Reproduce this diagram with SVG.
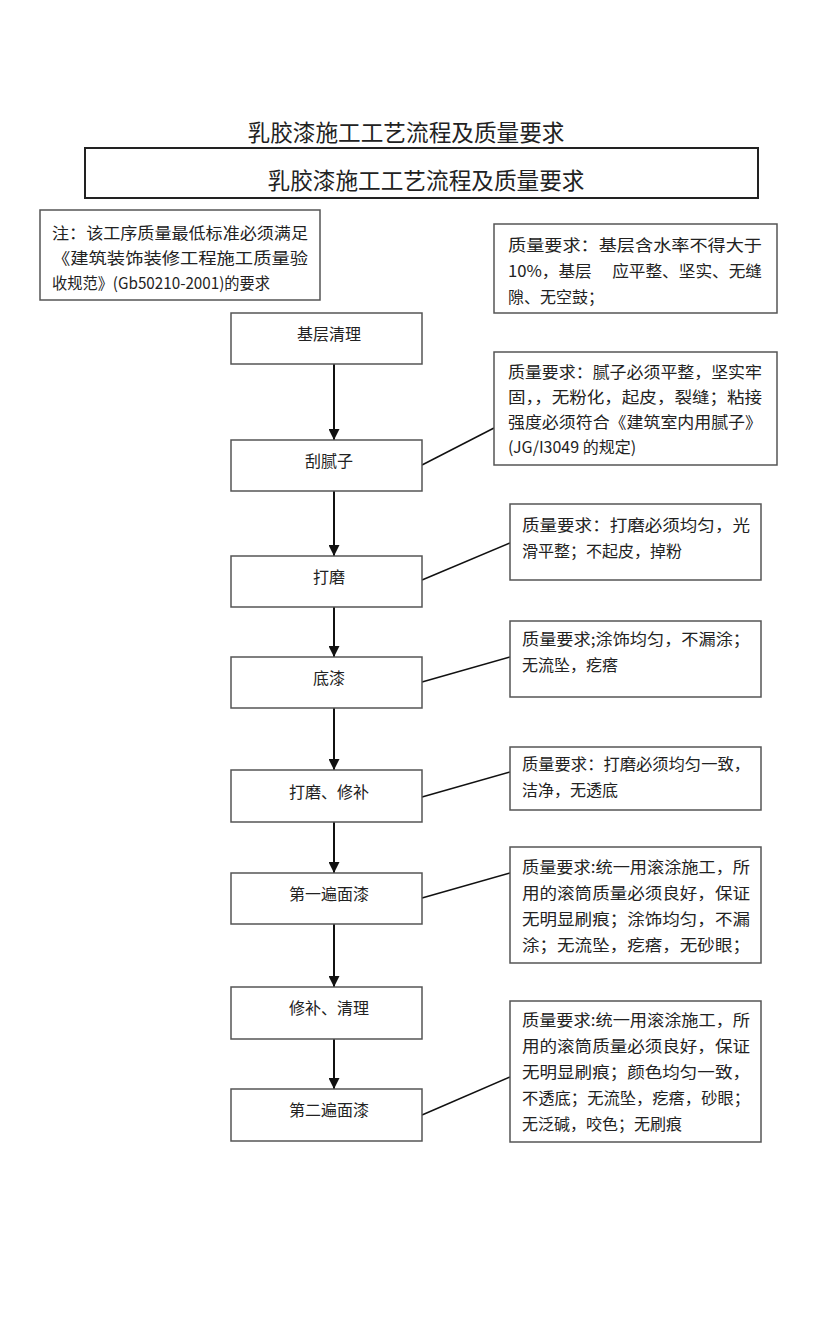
<svg xmlns="http://www.w3.org/2000/svg" width="816" height="1344" viewBox="0 0 816 1344">
<defs>
<style>
.t{font-family:"Noto Sans CJK SC","Liberation Serif",serif;fill:#222}
.title{font-size:23px}
.lbl{font-size:16px;text-anchor:middle}
.q{font-size:16px}
.box{fill:#fff;stroke:#555;stroke-width:1.5}
.tbox{fill:#fff;stroke:#222;stroke-width:2}
.arr{stroke:#111;stroke-width:2;fill:none}
.lnk{stroke:#111;stroke-width:1.5;fill:none}
</style>
<marker id="ah" viewBox="0 0 10 10" refX="10" refY="5" markerWidth="5.5" markerHeight="5.5" orient="auto" markerUnits="strokeWidth">
<path d="M0,0 L10,5 L0,10 z" fill="#111"/>
</marker>
</defs>
<rect width="816" height="1344" fill="#fff"/>

<g id="title">
<text class="t title" x="406" y="141" text-anchor="middle" textLength="317" lengthAdjust="spacingAndGlyphs">乳胶漆施工工艺流程及质量要求</text>
</g>
<g id="title-box">
<rect class="tbox" x="85" y="148" width="673" height="50"/>
<text class="t title" x="426" y="189" text-anchor="middle" textLength="317" lengthAdjust="spacingAndGlyphs">乳胶漆施工工艺流程及质量要求</text>
</g>

<g id="note">
<rect class="box" x="40" y="210" width="280" height="90"/>
<text class="t q" x="52" y="239" textLength="256" lengthAdjust="spacingAndGlyphs">注：该工序质量最低标准必须满足</text>
<text class="t q" x="52" y="264" textLength="256" lengthAdjust="spacingAndGlyphs">《建筑装饰装修工程施工质量验</text>
<text class="t q" x="52" y="289" textLength="218" lengthAdjust="spacingAndGlyphs">收规范》(Gb50210-2001)的要求</text>
</g>

<g id="connectors">
<line class="arr" x1="334" y1="364" x2="334" y2="440" marker-end="url(#ah)"/>
<line class="arr" x1="334" y1="491" x2="334" y2="556" marker-end="url(#ah)"/>
<line class="arr" x1="334" y1="607" x2="334" y2="657" marker-end="url(#ah)"/>
<line class="arr" x1="334" y1="708" x2="334" y2="770" marker-end="url(#ah)"/>
<line class="arr" x1="334" y1="822" x2="334" y2="873" marker-end="url(#ah)"/>
<line class="arr" x1="334" y1="924" x2="334" y2="987" marker-end="url(#ah)"/>
<line class="arr" x1="334" y1="1039" x2="334" y2="1089" marker-end="url(#ah)"/>
<line class="lnk" x1="422" y1="465" x2="494" y2="428"/>
<line class="lnk" x1="422" y1="580" x2="510" y2="543"/>
<line class="lnk" x1="422" y1="682" x2="510" y2="657"/>
<line class="lnk" x1="422" y1="797" x2="510" y2="772"/>
<line class="lnk" x1="422" y1="898" x2="510" y2="873"/>
<line class="lnk" x1="422" y1="1115" x2="510" y2="1077"/>
</g>

<g id="n1"><rect class="box" x="231" y="313" width="191" height="51"/><text class="t lbl" x="329" y="340">基层清理</text></g>
<g id="n2"><rect class="box" x="231" y="440" width="191" height="51"/><text class="t lbl" x="329" y="467">刮腻子</text></g>
<g id="n3"><rect class="box" x="231" y="556" width="191" height="51"/><text class="t lbl" x="329" y="583">打磨</text></g>
<g id="n4"><rect class="box" x="231" y="657" width="191" height="51"/><text class="t lbl" x="329" y="684">底漆</text></g>
<g id="n5"><rect class="box" x="231" y="770" width="191" height="52"/><text class="t lbl" x="329" y="798">打磨、修补</text></g>
<g id="n6"><rect class="box" x="231" y="873" width="191" height="51"/><text class="t lbl" x="329" y="900">第一遍面漆</text></g>
<g id="n7"><rect class="box" x="231" y="987" width="191" height="52"/><text class="t lbl" x="329" y="1014">修补、清理</text></g>
<g id="n8"><rect class="box" x="231" y="1089" width="191" height="52"/><text class="t lbl" x="329" y="1116">第二遍面漆</text></g>

<g id="q1">
<rect class="box" x="494" y="224" width="283" height="89"/>
<text class="t q" x="508" y="251" textLength="254" lengthAdjust="spacingAndGlyphs">质量要求：基层含水率不得大于</text>
<text class="t q" x="508" y="277" textLength="254" lengthAdjust="spacingAndGlyphs">10%，基层　 应平整、坚实、无缝</text>
<text class="t q" x="508" y="303">隙、无空鼓；</text>
</g>
<g id="q2">
<rect class="box" x="494" y="352" width="283" height="113"/>
<text class="t q" x="508" y="378" textLength="254" lengthAdjust="spacingAndGlyphs">质量要求：腻子必须平整，坚实牢</text>
<text class="t q" x="508" y="403" textLength="254" lengthAdjust="spacingAndGlyphs">固，，无粉化，起皮，裂缝；粘接</text>
<text class="t q" x="508" y="428" textLength="254" lengthAdjust="spacingAndGlyphs">强度必须符合《建筑室内用腻子》</text>
<text class="t q" x="508" y="453">(JG/I3049 的规定)</text>
</g>
<g id="q3">
<rect class="box" x="510" y="504" width="251" height="76"/>
<text class="t q" x="522" y="531" textLength="228" lengthAdjust="spacingAndGlyphs">质量要求：打磨必须均匀，光</text>
<text class="t q" x="522" y="557">滑平整；不起皮，掉粉</text>
</g>
<g id="q4">
<rect class="box" x="510" y="621" width="251" height="76"/>
<text class="t q" x="522" y="645" textLength="228" lengthAdjust="spacingAndGlyphs">质量要求;涂饰均匀，不漏涂；</text>
<text class="t q" x="522" y="671">无流坠，疙瘩</text>
</g>
<g id="q5">
<rect class="box" x="510" y="747" width="251" height="63"/>
<text class="t q" x="522" y="770" textLength="228" lengthAdjust="spacingAndGlyphs">质量要求：打磨必须均匀一致，</text>
<text class="t q" x="522" y="796">洁净，无透底</text>
</g>
<g id="q6">
<rect class="box" x="510" y="847" width="251" height="116"/>
<text class="t q" x="522" y="873" textLength="228" lengthAdjust="spacingAndGlyphs">质量要求:统一用滚涂施工，所</text>
<text class="t q" x="522" y="899" textLength="228" lengthAdjust="spacingAndGlyphs">用的滚筒质量必须良好，保证</text>
<text class="t q" x="522" y="925" textLength="228" lengthAdjust="spacingAndGlyphs">无明显刷痕；涂饰均匀，不漏</text>
<text class="t q" x="522" y="951" textLength="228" lengthAdjust="spacingAndGlyphs">涂；无流坠，疙瘩，无砂眼；</text>
</g>
<g id="q7">
<rect class="box" x="510" y="1001" width="251" height="141"/>
<text class="t q" x="522" y="1026" textLength="228" lengthAdjust="spacingAndGlyphs">质量要求:统一用滚涂施工，所</text>
<text class="t q" x="522" y="1052" textLength="228" lengthAdjust="spacingAndGlyphs">用的滚筒质量必须良好，保证</text>
<text class="t q" x="522" y="1078" textLength="228" lengthAdjust="spacingAndGlyphs">无明显刷痕；颜色均匀一致，</text>
<text class="t q" x="522" y="1104" textLength="228" lengthAdjust="spacingAndGlyphs">不透底；无流坠，疙瘩，砂眼；</text>
<text class="t q" x="522" y="1130">无泛碱，咬色；无刷痕</text>
</g>
</svg>
